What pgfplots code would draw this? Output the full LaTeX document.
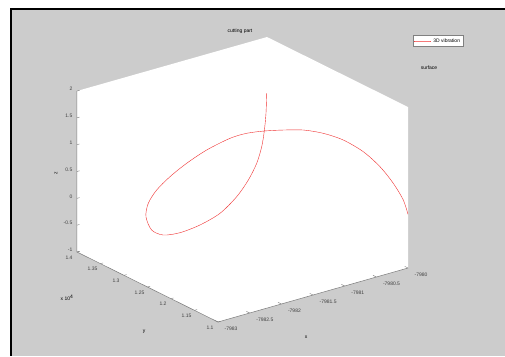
\documentclass[border=0pt]{standalone}
\usepackage{pgfplots}
\pgfplotsset{compat=1.18}
\usepackage{fontspec}
\setmainfont{Liberation Sans}
\definecolor{figbg}{HTML}{CCCCCC}
\definecolor{axgray}{HTML}{7A7A7A}
\definecolor{curvered}{HTML}{F03030}
\begin{document}
\begin{tikzpicture}[tl/.style={font=\fontsize{5}{6}\selectfont, text=black!75, inner sep=0.5pt}]
\path[use as bounding box] (0pt,0pt) rectangle (505pt,-356pt);
\fill[white] (0pt,0pt) rectangle (505pt,-356pt);
\fill[figbg] (11pt,-9pt) rectangle (505pt,-356pt);
\fill[black] (10pt,-8pt) rectangle (12pt,-356pt);
\fill[black] (10pt,-8pt) rectangle (505pt,-10pt);
\begin{axis}[
  at={(77pt,-322pt)}, anchor=south west,
  x={(63.333pt,18pt)}, y={(-0.047pt,0.023333pt)}, z={(0pt,53.667pt)},
  xmin=-7983, xmax=-7980, ymin=11000, ymax=14000, zmin=-1, zmax=2,
  clip=false,
  axis line style={draw=none},
  xtick=\empty, ytick=\empty, ztick=\empty,
  legend style={at={(axis cs:-7978.364,12566.5,2)}, anchor=center,
    font=\fontsize{5}{6}\selectfont, draw=black!50, fill=white,
    inner sep=1pt, row sep=0pt},
  legend cell align=left,
]
\fill[white] (axis cs:-7983,14000,2) -- (axis cs:-7980,14000,2) -- (axis cs:-7980,11000,2)
  -- (axis cs:-7980,11000,-1) -- (axis cs:-7983,11000,-1) -- (axis cs:-7983,14000,-1) -- cycle;
\draw[axgray, line width=0.5pt] (axis cs:-7983,14000,2) -- (axis cs:-7983,14000,-1)
  -- (axis cs:-7983,11000,-1) -- (axis cs:-7980,11000,-1);
\pgfplotsinvokeforeach{-7983,-7982.5,-7982,-7981.5,-7981,-7980.5,-7980}{
  \draw[axgray, line width=0.4pt] (axis cs:#1,11000,-1) -- (axis cs:#1,11070,-1);
  \node[tl, anchor=west, xshift=6pt, yshift=-7pt] at (axis cs:#1,11000,-1) {#1};}
\pgfplotsinvokeforeach{11000,11500,12000,12500,13000,13500,14000}{
  \draw[axgray, line width=0.4pt] (axis cs:-7983,#1,-1) -- (axis cs:-7982.96,#1,-1);}
\pgfplotsinvokeforeach{-1,-0.5,0,0.5,1,1.5,2}{
  \draw[axgray, line width=0.4pt] (axis cs:-7983,14000,#1) -- (axis cs:-7982.96,14000,#1);
  \node[tl, anchor=east, xshift=-4pt, yshift=2pt] at (axis cs:-7983,14000,#1) {#1};}
\node[tl, xshift=-8pt, yshift=-5.5pt] at (axis cs:-7983,11000,-1) {1.1};
\node[tl, xshift=-8pt, yshift=-5.5pt] at (axis cs:-7983,11500,-1) {1.15};
\node[tl, xshift=-8pt, yshift=-5.5pt] at (axis cs:-7983,12000,-1) {1.2};
\node[tl, xshift=-8pt, yshift=-5.5pt] at (axis cs:-7983,12500,-1) {1.25};
\node[tl, xshift=-8pt, yshift=-5.5pt] at (axis cs:-7983,13000,-1) {1.3};
\node[tl, xshift=-8pt, yshift=-5.5pt] at (axis cs:-7983,13500,-1) {1.35};
\node[tl, xshift=-8pt, yshift=-5.5pt] at (axis cs:-7983,14000,-1) {1.4};
\addplot3[curvered, line width=0.4pt, smooth] coordinates {
(-7981.0,12659,1.869) (-7981.0,12674,1.490) (-7981.0,12710,1.145)
(-7981.15,12563,0.966) (-7981.35,12400,0.795) (-7981.55,12309,0.590)
(-7981.75,12287,0.356) (-7981.95,12373,0.076) (-7982.15,12529,-0.142)
(-7982.3,12752,-0.332) (-7982.4,12973,-0.438) (-7982.5,13085,-0.360)
(-7982.55,13139,-0.119) (-7982.55,13090,0.152) (-7982.5,12978,0.432)
(-7982.4,12830,0.711) (-7982.25,12677,0.977) (-7982.05,12521,1.225)
(-7981.8,12362,1.428) (-7981.6,12276,1.492) (-7981.4,12171,1.513)
(-7981.2,12036,1.523) (-7981.0,11880,1.524) (-7980.8,11724,1.463)
(-7980.6,11568,1.339) (-7980.45,11345,1.168) (-7980.3,11192,0.905)
(-7980.15,11111,0.580) (-7980.05,11033,0.270) (-7980.0,11000,0.0)
};
\addlegendentry{3D vibration}
\end{axis}
\node[font=\fontsize{5}{6}\selectfont] at (240pt,-31pt) {cutting part};
\node[font=\fontsize{5}{6}\selectfont] at (429pt,-67.5pt) {surface};
\node[font=\fontsize{5}{6}\selectfont, rotate=90] at (56pt,-173pt) {z};
\node[font=\fontsize{5}{6}\selectfont] at (144pt,-332pt) {y};
\node[font=\fontsize{5}{6}\selectfont] at (306pt,-337pt) {x};
\node[font=\fontsize{5}{6}\selectfont] at (67pt,-298pt) {x 10\textsuperscript{4}};
\end{tikzpicture}
\end{document}
